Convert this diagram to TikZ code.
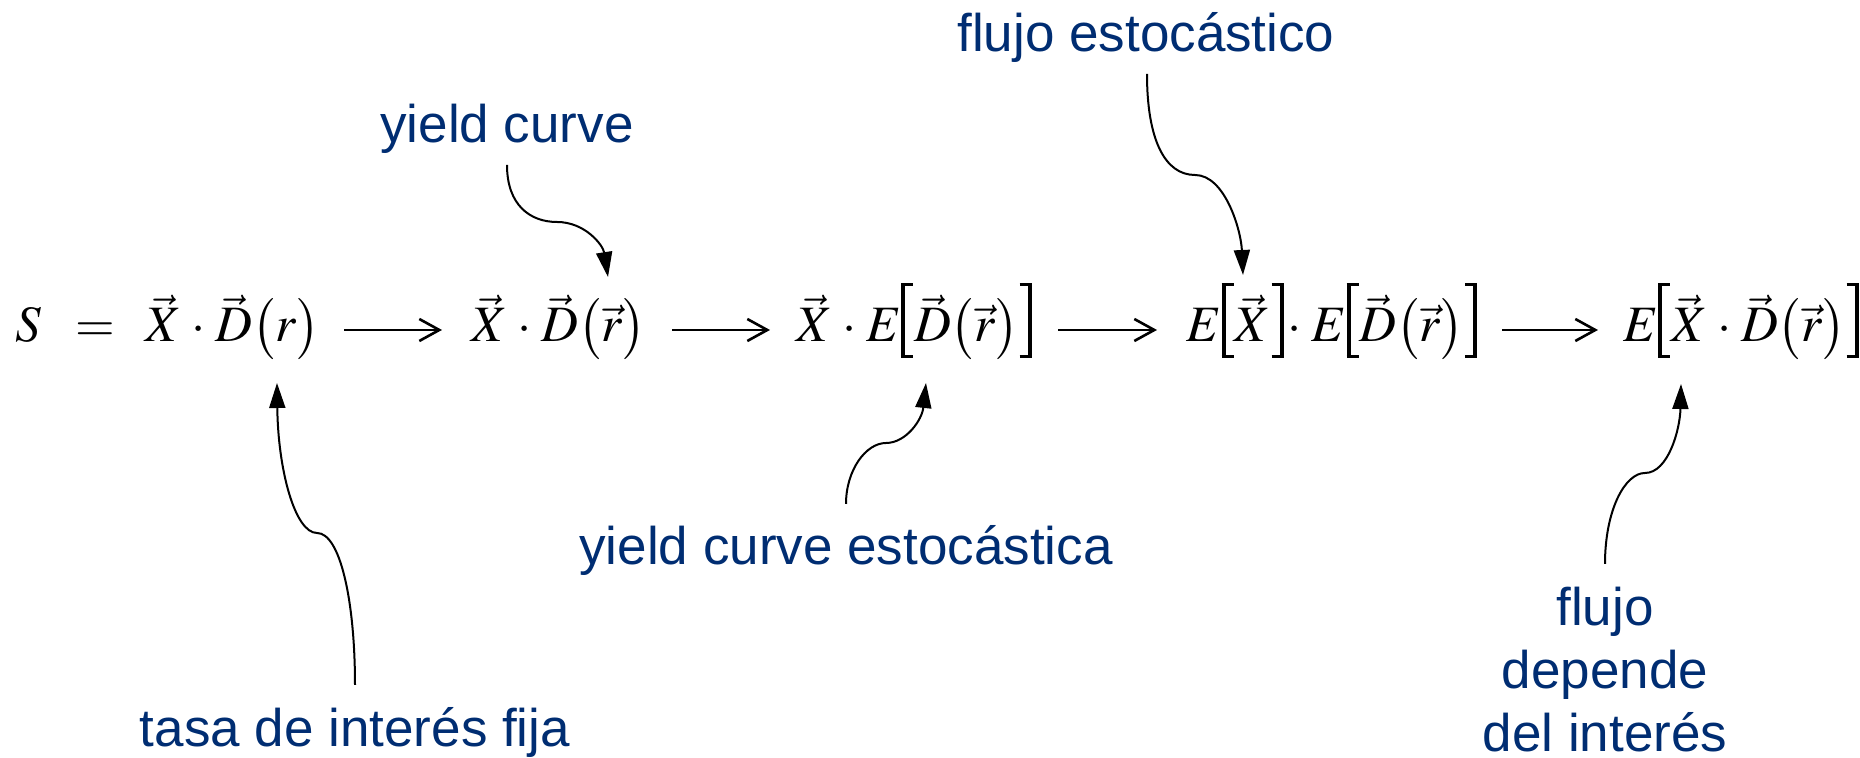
\documentclass[tikz,border=0pt]{standalone}
\usepackage{mathptmx}
\usepackage{fontspec}
\setmainfont{Liberation Serif}
\newfontfamily\labfont{Liberation Sans}
\usetikzlibrary{arrows.meta,calc}
\definecolor{navy}{RGB}{0,45,114}
\newcommand\bkserifs{\raise-8pt\vbox to 37.5pt{\hrule width 6pt height 1.5pt\vfil\hrule width 6pt height 1.5pt}}
\newcommand\lbrk{\mathopen{\hbox{\vrule width 2pt height 29.5pt depth 8pt\kern-2pt\bkserifs\kern0.5pt}}}
\newcommand\rbrk{\mathclose{\hbox{\kern0.5pt\bkserifs\kern-2pt\vrule width 2pt height 29.5pt depth 8pt}}}
\newcommand\mathsetup{\fontsize{25.5}{30}\selectfont\medmuskip=3.5mu\relax}
\begin{document}
\begin{tikzpicture}[x=0.5pt,y=0.5pt,
  mathnode/.style={inner sep=0pt, anchor=base, font=\mathsetup},
  lab/.style={text=navy, inner sep=0pt, anchor=base, align=center, font=\labfont\fontsize{26.5}{31.5}\selectfont},
  flow/.style={line width=1.3pt, -{Straight Barb[length=10pt,width=11pt]}},
  pointer/.style={line width=1pt, -{Triangle[length=12.5pt,width=8pt]}}]
\useasboundingbox (0,0) rectangle (1860,758);
% formula
\node[mathnode] (S) at (28,416) {$S$};
\node[mathnode] (eq) at (95,416) {$=$};
\node[mathnode] (e1) at (233,416) {$\vec{X}\cdot\vec{D}\bigl(r\bigr)$};
\node[mathnode] (e2) at (559,416) {$\vec{X}\cdot\vec{D}\bigl(\vec{r}\bigr)$};
\node[mathnode] (e3) at (914,416) {$\vec{X}\cdot E\lbrk\vec{D}\bigl(\vec{r}\bigr)\rbrk$};
\node[mathnode] (e4) at (1332,416) {$E\lbrk\vec{X}\rbrk\!\cdot E\lbrk\vec{D}\bigl(\vec{r}\bigr)\rbrk$};
\node[mathnode] (e5) at (1741,416) {$E\lbrk\vec{X}\cdot\vec{D}\bigl(\vec{r}\bigr)\rbrk$};
\draw[flow] ($(e1.base)+(111,12)$) -- ($(e2.base)+(-117,12)$);
\draw[flow] ($(e2.base)+(113,12)$) -- ($(e3.base)+(-144,12)$);
\draw[flow] ($(e3.base)+(144,12)$) -- ($(e4.base)+(-175,12)$);
\draw[flow] ($(e4.base)+(170,12)$) -- ($(e5.base)+(-143,12)$);
% labels
\node[lab] (yc) at (507,615) {yield curve};
\node[lab] (fe) at (1146,706) {flujo estocástico};
\node[lab] (yce) at (846,193) {yield curve estocástica};
\node[lab] (tif) at (355,11) {tasa de interés fija};
\node[lab] (fdi) at (1605,6) {flujo\\depende\\del interés};
% pointer ends
\coordinate (s1) at (507,593); \coordinate (t1) at (608,481);
\coordinate (s2) at (1147,684); \coordinate (t2) at (1243,483);
\coordinate (s3) at (355,73);  \coordinate (t3) at (277,375);
\coordinate (s4) at (846,254); \coordinate (t4) at (926,375);
\coordinate (s5) at (1605,194); \coordinate (t5) at (1681,374);
\draw[pointer] (s1) .. controls (507,553) and (530,536) .. (557,536)
  .. controls (585,536) and (603,513) .. (t1);
\draw[pointer] (s2) .. controls (1147,618) and (1165,583) .. (1195,583)
  .. controls (1225,583) and (1241,528) .. (t2);
\draw[pointer] (s3) .. controls (355,158) and (340,225) .. (317,225)
  .. controls (295,225) and (278,288) .. (t3);
\draw[pointer] (s4) .. controls (846,288) and (866,315) .. (886,315)
  .. controls (906,315) and (922,338) .. (t4);
\draw[pointer] (s5) .. controls (1605,248) and (1625,285) .. (1645,285)
  .. controls (1668,285) and (1680,328) .. (t5);
\end{tikzpicture}
\end{document}
